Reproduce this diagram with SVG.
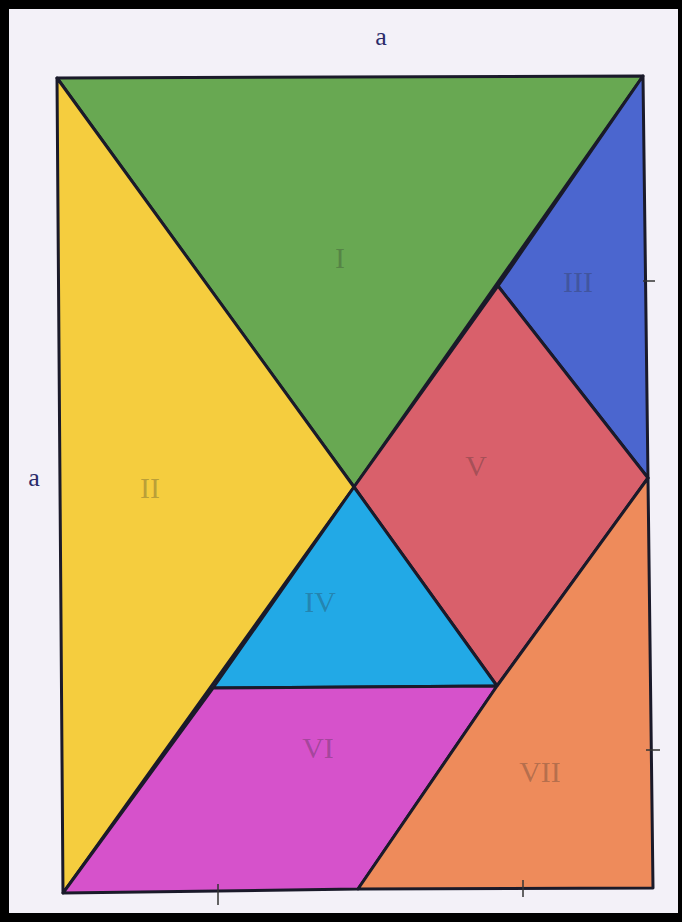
<svg xmlns="http://www.w3.org/2000/svg" width="682" height="922" viewBox="0 0 682 922">
<style>
.piece{stroke:#1a1a2a;stroke-width:3;stroke-linejoin:round}
.num{font-family:"Liberation Serif",serif;font-size:30px;fill:#2a2a2a;fill-opacity:0.3;text-anchor:middle}
.lbl{font-family:"Liberation Serif",serif;font-size:26px;fill:#2a2a6a;text-anchor:middle}
.tick{stroke:#333;stroke-width:1.5}
</style>
<rect x="0" y="0" width="682" height="922" fill="#000"/>
<rect x="9" y="9" width="669" height="904" fill="#f3f1f8"/>
<text class="lbl" x="381" y="45">a</text>
<text class="lbl" x="34" y="486">a</text>
<g id="p1"><polygon class="piece" fill="#68a852" points="57,78 643,76 354,487"/><text class="num" x="340" y="268">I</text></g>
<g id="p2"><polygon class="piece" fill="#f5cd3e" points="57,78 354,487 63,893"/><text class="num" x="150" y="498">II</text></g>
<g id="p3"><polygon class="piece" fill="#4b66cf" points="643,76 648,478 498,286"/><text class="num" x="578" y="292">III</text></g>
<g id="p5"><polygon class="piece" fill="#d9606b" points="498,286 648,478 497,686 354,487"/><text class="num" x="476" y="476">V</text></g>
<g id="p4"><polygon class="piece" fill="#22a9e6" points="354,487 497,686 213,688"/><text class="num" x="320" y="612">IV</text></g>
<g id="p6"><polygon class="piece" fill="#d652cb" points="213,688 497,686 358,889 63,893"/><text class="num" x="318" y="758">VI</text></g>
<g id="p7"><polygon class="piece" fill="#ee8b5b" points="648,478 653,888 358,889 497,686"/><text class="num" x="540" y="782">VII</text></g>
<g id="connectors">
<line class="tick" x1="643" y1="281" x2="655" y2="281"/>
<line class="tick" x1="646" y1="750" x2="660" y2="750"/>
<line class="tick" x1="218" y1="884" x2="218" y2="905"/>
<line class="tick" x1="523" y1="880" x2="523" y2="897"/>
</g>
</svg>
